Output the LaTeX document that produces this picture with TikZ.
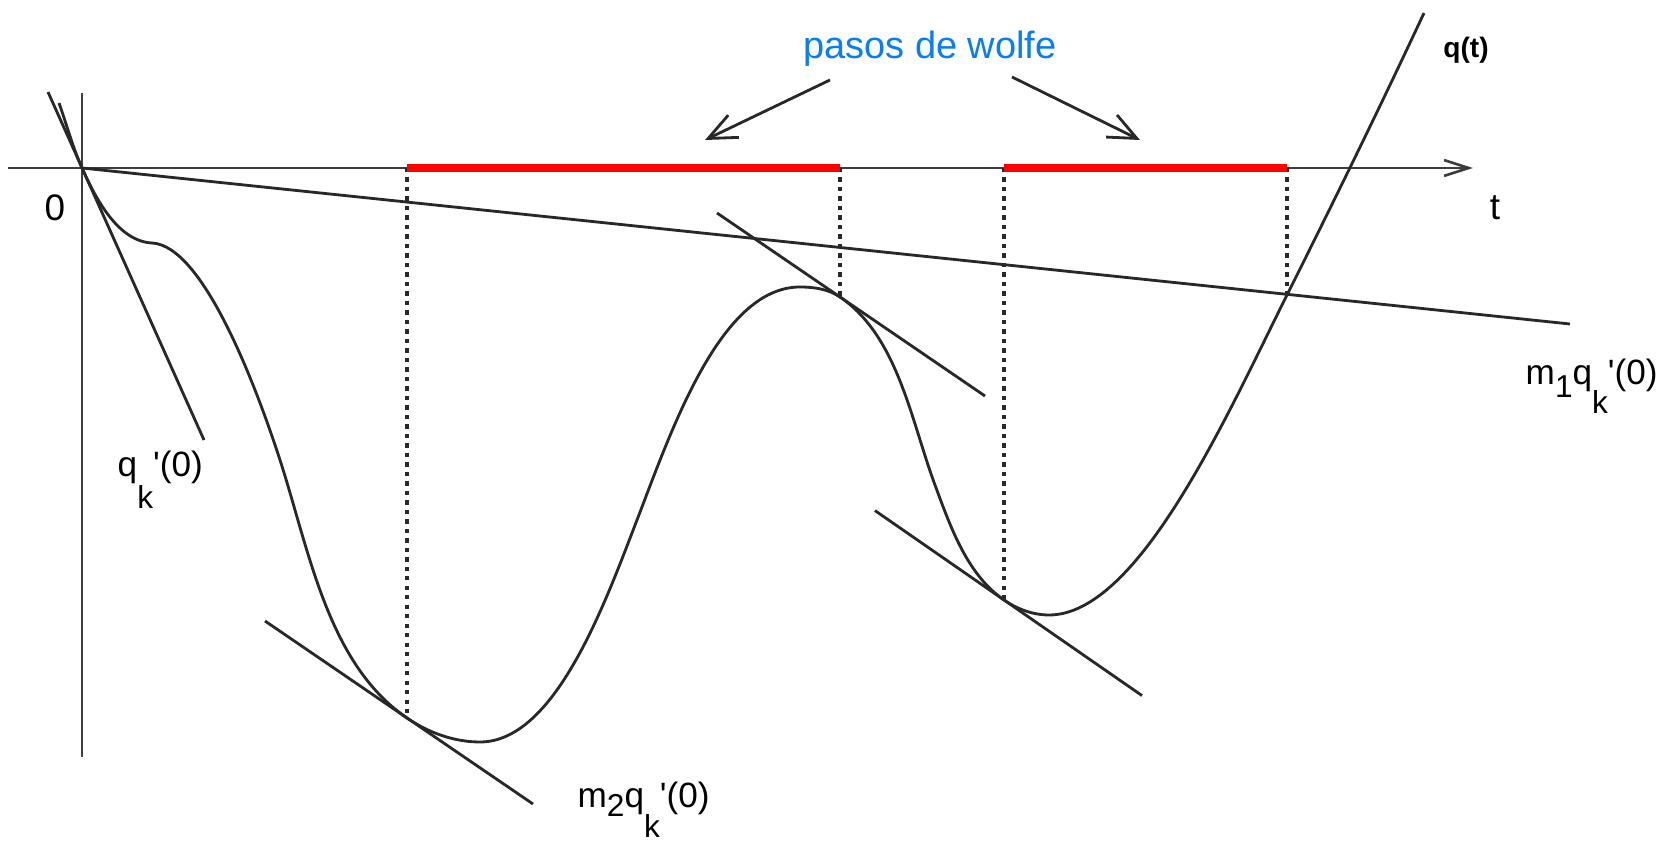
\documentclass[tikz,border=0pt]{standalone}
\usepackage{fontspec}
\setmainfont{Liberation Sans}
\newfontfamily\labfont{Liberation Sans}
\usetikzlibrary{positioning, arrows.meta}
\definecolor{wolfeBlue}{RGB}{10,125,245}
\definecolor{wolfeRed}{RGB}{255,0,0}
\definecolor{inkGray}{RGB}{40,40,40}
\newcommand{\lowsub}[2]{\raisebox{-#1}{\fontsize{9}{9}\selectfont #2}}

\begin{document}
\begin{tikzpicture}[
  x=0.01cm, y=-0.01cm,
  % Styles
  axisline/.style={draw=inkGray!90, line width=0.75pt},
  curveline/.style={draw=inkGray, line width=0.8pt},
  tangline/.style={draw=inkGray, line width=0.8pt},
  projline/.style={draw=inkGray, line width=0.95pt, dash pattern=on 1.2pt off 1.5pt},
  wolfeseg/.style={draw=wolfeRed, line width=2.4pt},
  wolfearrow/.style={-{Straight Barb[length=8pt, width=7pt]}, draw=inkGray, line width=0.8pt},
  mathlabel/.style={font=\labfont\fontsize{10}{12}\selectfont, text=black, inner sep=0pt, anchor=base west},
  axislabel/.style={font=\labfont\fontsize{10.5}{12}\selectfont, text=black, inner sep=0pt},
]
\useasboundingbox[fill=white] (0,0) rectangle (1665,843);

% === AXES ===
\coordinate (O) at (82,168);
\coordinate (tstart) at (8,168);
\coordinate (tend) at (1473,168);
\coordinate (ytop) at (82,93);
\coordinate (ybot) at (82,757);
\draw[axisline, -{Straight Barb[length=7pt, width=4.5pt]}] (tstart) -- (tend);
\draw[axisline] (ytop) -- (ybot);
\node[axislabel] (zero) at (55,208) {0};
\node[axislabel] (tlab) at (1495,208) {t};

% === KEY POINTS OF q(t) ===
\coordinate (K0) at (59,103);
\coordinate (K2) at (152,243);
\coordinate (K2b) at (280,460);
\coordinate (K3) at (407,718);
\coordinate (K4) at (480,742);
\coordinate (K5) at (637,520);
\coordinate (K6) at (800,287);
\coordinate (K7) at (840,297);
\coordinate (K8) at (935,485);
\coordinate (K9) at (1004,600);
\coordinate (K10) at (1049,615);
\coordinate (K11) at (1287,295);
\coordinate (K12) at (1424,13);

% === CURVE q(t) ===
\draw[curveline] (K0)
  .. controls (66.7,124.7) and (72.6,147) .. (O)
  .. controls (95.9,199) and (118,241.3) .. (K2)
  .. controls (202,245.5) and (254,380) .. (K2b)
  .. controls (309.5,551.4) and (327.7,663.9) .. (K3)
  .. controls (428.5,732.7) and (454,742) .. (K4)
  .. controls (555,742) and (604.7,604) .. (K5)
  .. controls (671.1,431.4) and (720,287) .. (K6)
  .. controls (814,287) and (828.4,289.1) .. (K7)
  .. controls (897.8,336.5) and (910.7,419.3) .. (K8)
  .. controls (950.6,527.2) and (967,574.4) .. (K9)
  .. controls (1017.2,609.1) and (1033,615) .. (K10)
  .. controls (1139,615) and (1227.5,413.9) .. (K11)
  .. controls (1333.5,202) and (1380,107.3) .. (K12);
\node[font=\labfont\bfseries\fontsize{8}{10}\selectfont, inner sep=0pt] (qlab) at (1466,50) {q(t)};

% === TANGENT LINES ===
\coordinate (d0a) at (48,92);
\coordinate (d0b) at (204,440);
\coordinate (m1b) at (1570,324);
\coordinate (m2a) at (265,621);
\coordinate (m2b) at (533,804);
\coordinate (t3a) at (717,213);
\coordinate (t3b) at (985,396);
\coordinate (t4a) at (875,510.6);
\coordinate (t4b) at (1142,695.6);
\draw[tangline] (d0a) -- (d0b);
\draw[tangline] (O) -- (m1b);
\draw[tangline] (m2a) -- (m2b);
\draw[tangline] (t3a) -- (t3b);
\draw[tangline] (t4a) -- (t4b);

\node[mathlabel] (dlab) at (117,477) {q\lowsub{9pt}{k}'(0)};
\node[mathlabel] (m1lab) at (1525,385) {m\lowsub{3.5pt}{1}q\lowsub{8pt}{k}'(0)};
\node[mathlabel] (m2lab) at (577,808) {m\lowsub{2.5pt}{2}q\lowsub{8.5pt}{k}'(0)};

% === PROJECTIONS ===
\draw[projline] (K3 |- O) -- (K3);
\draw[projline] (K7 |- O) -- (K7);
\draw[projline] (K9 |- O) -- (K9);
\draw[projline] (K11 |- O) -- (K11);

% === WOLFE STEPS ===
\draw[wolfeseg] (K3 |- O) -- (K7 |- O);
\draw[wolfeseg] (K9 |- O) -- (K11 |- O);

\node[font=\labfont\fontsize{10.8}{12}\selectfont, text=wolfeBlue, inner sep=0pt] (wolfe) at (930,49) {pasos de wolfe};
\coordinate (wa1) at (830,80);
\coordinate (wa1tip) at (705,140);
\coordinate (wa2) at (1012,77);
\coordinate (wa2tip) at (1140,140);
\draw[wolfearrow] (wa1) -- (wa1tip);
\draw[wolfearrow] (wa2) -- (wa2tip);

\end{tikzpicture}
\end{document}
